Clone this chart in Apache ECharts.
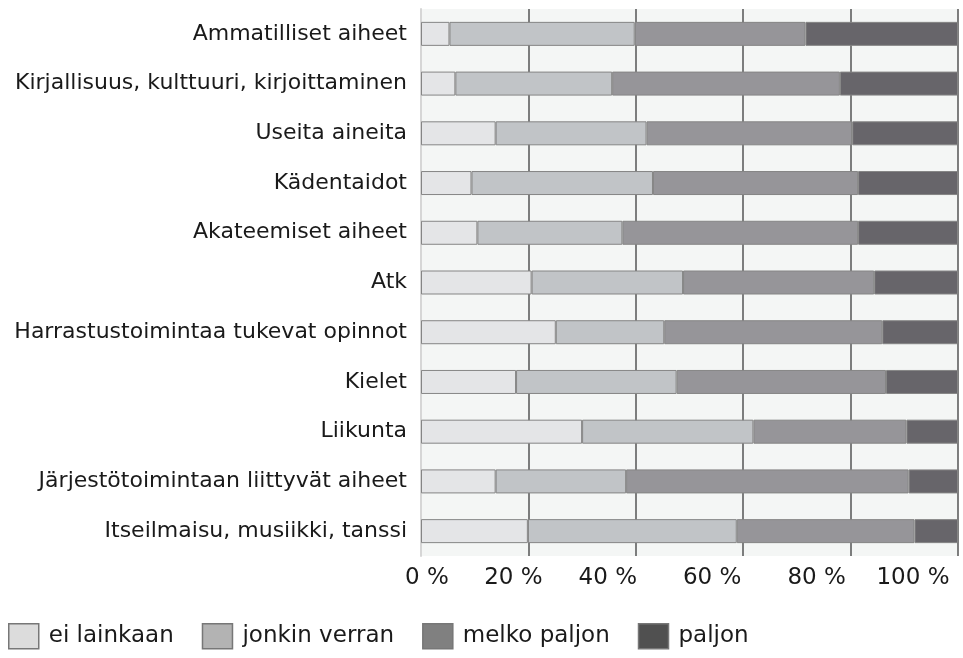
<!DOCTYPE html>
<html>
<head>
<meta charset="utf-8">
<script src="https://cdn.jsdelivr.net/npm/echarts@6/dist/echarts.min.js"></script>
<style>
    html, body {margin:0; padding:0; background:#fff;}
    #chart {width:963px; height:658px;}
</style>
</head>
<body>
<div id="chart"></div>
<script>
// aiheet ylhäältä alas
let categories = [
    'Ammatilliset aiheet',
    'Kirjallisuus, kulttuuri, kirjoittaminen',
    'Useita aineita',
    'Kädentaidot',
    'Akateemiset aiheet',
    'Atk',
    'Harrastustoimintaa tukevat opinnot',
    'Kielet',
    'Liikunta',
    'Järjestötoimintaan liittyvät aiheet',
    'Itseilmaisu, musiikki, tanssi'
];
let seriesNames = ['ei lainkaan', 'jonkin verran', 'melko paljon', 'paljon'];
// prosentit (luettu kuvasta)
let eiLainkaan   = [5.3, 6.4, 13.9, 9.4, 10.5, 20.6, 25.1, 17.7, 30.0, 13.9, 19.9];
let jonkinVerran = [34.5, 29.2, 28.1, 33.8, 27.0, 28.2, 20.2, 29.9, 31.9, 24.3, 38.9];
let melkoPaljon  = [31.8, 42.4, 38.3, 38.2, 43.9, 35.6, 40.6, 39.0, 28.5, 52.6, 33.1];
let paljon       = [28.4, 22.0, 19.7, 18.6, 18.6, 15.6, 14.1, 13.4, 9.6, 9.2, 8.1];
let xTicks = [0, 20, 40, 60, 80, 100];

let values = [eiLainkaan, jonkinVerran, melkoPaljon, paljon];
let barColors = ['#e4e5e7', '#c1c4c7', '#969599', '#67656a'];
let legendColors = ['#dcdcdc', '#b3b3b3', '#808080', '#505050'];
let font = 'DejaVu Sans';

// x-akselin tekstit eivät ole aivan viivojen kohdalla (siirto pikseleinä)
let labelShift = [6, -15, -28, -31, -34, -45];
let rich = {};
xTicks.forEach((t, i) => {
    let s = labelShift[i];
    rich['t' + t] = {
        fontSize: 23, color: '#1a1a1a', fontFamily: font,
        padding: s > 0 ? [0, 0, 0, 2 * s] : [0, -2 * s, 0, 0]
    };
});

let myChart = echarts.init(document.getElementById('chart'));

let series = seriesNames.map((name, i) => ({
    name: name,
    type: 'bar',
    stack: 'total',
    barWidth: 24,
    itemStyle: {color: barColors[i], borderColor: '#858585', borderWidth: 1},
    data: values[i]
}));

myChart.setOption({
    animation: false,
    textStyle: {fontFamily: font},
    grid: {
        left: 421, right: 5, top: 9, bottom: 102,
        outerBoundsMode: 'none',
        containLabel: false,
        show: true, backgroundColor: '#f4f6f5', borderWidth: 0
    },
    legend: {
        left: 3, top: 618,
        itemWidth: 30, itemHeight: 25,
        itemGap: 28,
        textStyle: {fontSize: 23, color: '#1a1a1a', fontFamily: font, padding: [0, 0, 0, 5]},
        data: seriesNames.map((name, i) => ({
            name: name,
            icon: 'rect',
            itemStyle: {color: legendColors[i], borderColor: '#777', borderWidth: 1.5}
        }))
    },
    xAxis: {
        type: 'value',
        min: xTicks[0], max: xTicks[xTicks.length - 1], interval: 20,
        axisLine: {show: false},
        axisTick: {show: false},
        axisLabel: {
            margin: 11,
            formatter: v => '{t' + v + '|' + v + ' %}',
            rich: rich
        },
        splitLine: {show: true, lineStyle: {color: '#555', width: 1.5}}
    },
    yAxis: {
        type: 'category',
        inverse: true,
        data: categories,
        axisLine: {show: true, lineStyle: {color: '#d6d6d6', width: 2}},
        axisTick: {show: false},
        axisLabel: {fontSize: 22, color: '#1a1a1a', margin: 14}
    },
    series: series
});
</script>
</body>
</html>
